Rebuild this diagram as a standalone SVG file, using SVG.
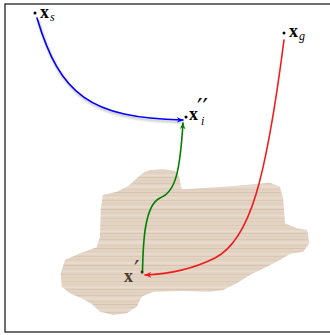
<svg xmlns="http://www.w3.org/2000/svg" width="330" height="335" viewBox="0 0 330 335">
<style>
.lbl{font-family:"Liberation Serif","DejaVu Serif",serif;font-weight:bold;font-size:18px;fill:#000}
.sub{font-family:"Liberation Serif","DejaVu Serif",serif;font-style:italic;font-weight:normal;font-size:12px}
.prm{font-family:"DejaVu Serif","Liberation Serif",serif;font-style:normal;font-weight:normal;font-size:24px}
.curve{fill:none;stroke-width:1.6;stroke-linecap:round}
.dot{fill:#000}
</style>
<defs>
<pattern id="wood" patternUnits="userSpaceOnUse" width="330" height="56">
<rect width="330" height="56" fill="#e3d3c3"/>
<rect y="1" width="330" height="0.6" fill="#d6c4b3"/>
<rect y="4" width="330" height="0.5" fill="#dccbbb"/>
<rect y="6.5" width="330" height="1.6" fill="#e9dccf"/>
<rect y="9" width="330" height="0.6" fill="#d3c0ae"/>
<rect y="12" width="330" height="0.5" fill="#dccbbb"/>
<rect y="15" width="330" height="0.8" fill="#d7c5b4"/>
<rect y="17.5" width="330" height="2" fill="#e9dccf"/>
<rect y="21" width="330" height="0.5" fill="#d8c6b5"/>
<rect y="24" width="330" height="0.7" fill="#d1bdab"/>
<rect y="27" width="330" height="0.4" fill="#dbcab9"/>
<rect y="29" width="330" height="1.5" fill="#e9dccf"/>
<rect y="32" width="330" height="0.6" fill="#d4c1af"/>
<rect y="35.5" width="330" height="0.5" fill="#dac8b8"/>
<rect y="38" width="330" height="1.8" fill="#e8dbcd"/>
<rect y="41" width="330" height="0.7" fill="#cfbba8"/>
<rect y="44" width="330" height="0.4" fill="#d9c7b7"/>
<rect y="47" width="330" height="1.2" fill="#e8dbcd"/>
<rect y="50" width="330" height="0.6" fill="#d5c2b0"/>
<rect y="53" width="330" height="0.5" fill="#dbc9b9"/>
</pattern>
<filter id="soft" x="-5%" y="-5%" width="110%" height="110%">
<feGaussianBlur stdDeviation="0.6"/>
</filter>
<filter id="shadow" x="-10%" y="-10%" width="120%" height="120%">
<feGaussianBlur stdDeviation="1"/>
</filter>
<marker id="ab" viewBox="0 0 10 8" refX="9" refY="4" markerWidth="7" markerHeight="6" markerUnits="userSpaceOnUse" orient="auto">
<path d="M0,0 L10,4 L0,8 L3,4 z" fill="#0000ff"/>
</marker>
<marker id="ag" viewBox="0 0 10 8" refX="9" refY="4" markerWidth="7" markerHeight="6" markerUnits="userSpaceOnUse" orient="auto">
<path d="M0,0 L10,4 L0,8 L3,4 z" fill="#008000"/>
</marker>
<marker id="ar" viewBox="0 0 10 8" refX="9" refY="4" markerWidth="7" markerHeight="6" markerUnits="userSpaceOnUse" orient="auto">
<path d="M0,0 L10,4 L0,8 L3,4 z" fill="#ee1c1c"/>
</marker>
</defs>
<rect x="5" y="4" width="330" height="328" fill="#fff" stroke="#222" stroke-width="1.3"/>
<g id="region">
<path filter="url(#soft)" fill="url(#wood)" d="M138.3,176.7 L143.3,172.7 L150,170 L163.3,169.3 L175,170.7 L179.3,176.7 L180.7,185 L181.7,189.3 L200,188.3 L233,186 L270,182.7 L280,186.7 L283.3,200 L285,223.3 L296.7,228.3 L307.3,230 L309.3,243.3 L303.3,251.7 L290,254 L280,260 L266.7,266.7 L250,275 L236.7,283.3 L223.3,290 L210,291.7 L183.3,291 L153.3,291.7 L141.7,296.7 L136.7,306.7 L126.7,313.3 L113.3,315 L100,311.7 L91.7,304 L83.3,299.3 L70,293.3 L61.7,286.7 L60.7,273.3 L65,260 L80,253.3 L96.7,247.3 L100,236.7 L100.7,210 L102.7,195 L116.7,191.7 L128.3,186 L135,180 Z"/>
</g>
<g id="connectors">
<path d="M38,20 C 61,97 91,120 183,122" fill="none" stroke="#000" stroke-opacity="0.25" stroke-width="2" filter="url(#shadow)"/>
<path class="curve" stroke="#0000ff" marker-end="url(#ab)" d="M37,18 C 60,95 90,118 183,120"/>
<path class="curve" stroke="#008000" marker-end="url(#ag)" d="M142.5,273 C 143,240 145,205 160,198 C 176,192 180,170 183,123"/>
<path class="curve" stroke="#ee1c1c" marker-end="url(#ar)" d="M284,40 C 266,180 250,240 215,258 C 195,268 170,274 145,275"/>
</g>
<g id="xs">
<circle class="dot" cx="35" cy="13" r="1.5"/>
<text class="lbl" x="40" y="18">x<tspan class="sub" x="50" y="21">s</tspan></text>
</g>
<g id="xg">
<circle class="dot" cx="284" cy="33" r="1.5"/>
<text class="lbl" x="289" y="37">x<tspan class="sub" x="299" y="40">g</tspan></text>
</g>
<g id="xi">
<circle class="dot" cx="186" cy="117" r="1.5"/>
<text class="lbl" x="189" y="120">x<tspan class="prm" x="197" y="116">′′</tspan><tspan class="sub" x="201" y="125">i</tspan></text>
</g>
<g id="xp">
<circle cx="142" cy="272" r="1.4" fill="#3a2e25"/>
<text class="lbl" x="124" y="282" style="fill:#4a3b2f">x<tspan class="prm" x="134" y="278">′</tspan></text>
</g>
</svg>
